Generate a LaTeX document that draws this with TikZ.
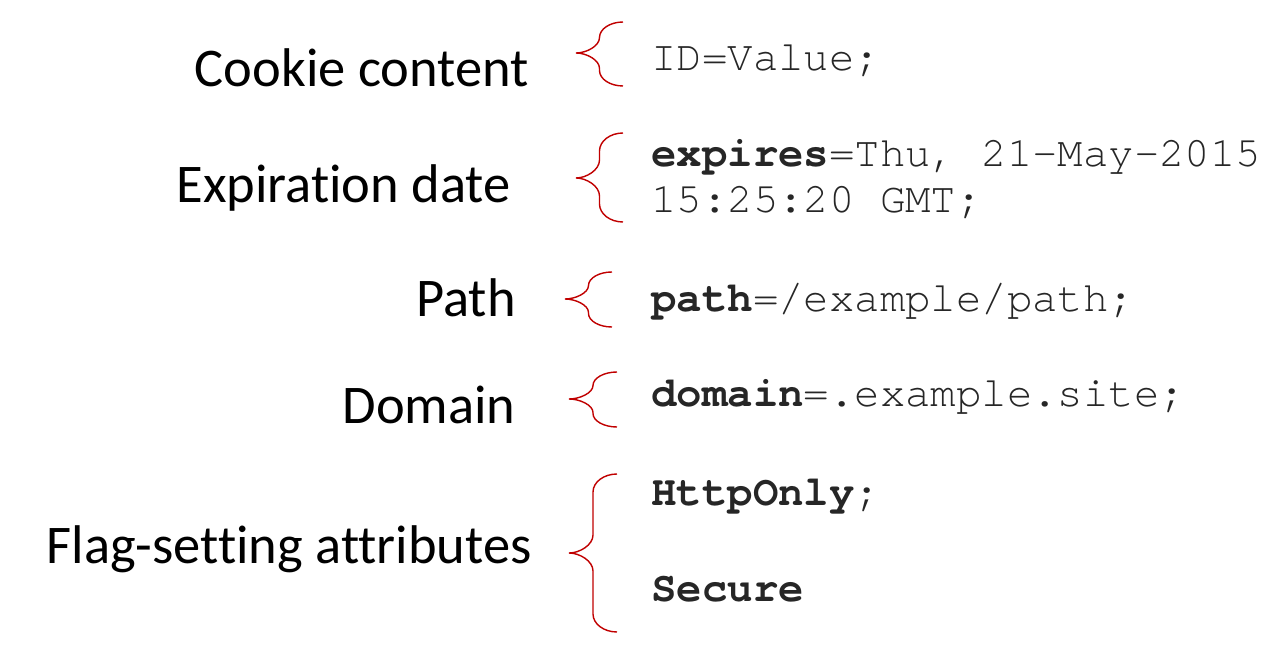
\documentclass[tikz,border=0pt]{standalone}
\usepackage{fontspec}
\setmainfont{Carlito}[Ligatures=NoCommon]
\newfontfamily\codefont{texgyrecursor}[Extension=.otf, UprightFont=*-regular, BoldFont=*-bold]
\definecolor{bracered}{HTML}{C00000}
\definecolor{codegray}{HTML}{262626}

\tikzset{
  fieldname/.style={inner sep=0pt, anchor=base east, text=black, font=\fontsize{31}{37}\selectfont},
  fieldval/.style={inner sep=0pt, anchor=base west, text=codegray, font=\codefont\fontsize{24.1}{29}\selectfont},
  bracestroke/.style={bracered, line width=0.8pt}
}

\begin{document}
\begin{tikzpicture}[x=0.2mm, y=-0.2mm]

% Canvas (1 unit = 1 px of the slide)
\useasboundingbox (0,0) rectangle (1286,655);

% Attribute names
\node[fieldname] (content) at (529,87)  {Cookie content};
\node[fieldname] (expiry)  at (511,203) {Expiration date};
\node[fieldname] (path)    at (516,317) {Path};
\node[fieldname] (domain)  at (516,424) {Domain};
\node[fieldname] (flags)   at (532,563) {Flag-setting attributes};

% Cookie string
\node[fieldval] (idval)     at (651,71)  {ID=Value;};
\node[fieldval] (expires)   at (651,167) {\textbf{expires}=Thu, 21-May-2015};
\node[fieldval] (expires2)  at (651,213) {15:25:20 GMT;};
\node[fieldval] (pathval)   at (651,312) {\textbf{path}=/example/path;};
\node[fieldval] (domainval) at (651,407) {\textbf{domain}=.example.site;};
\node[fieldval] (httponly)  at (651,505) {\textbf{HttpOnly};};
\node[fieldval] (secure)    at (651,601) {\textbf{Secure}};

% Curly braces: tip x / right x / top / tip y / bottom (four quarter arcs)
\foreach \tx/\rx/\yt/\ym/\yb in {576/623/22/53/86, 576/623/133/178/222,
    565/612/272/299/327, 569/617/372/399/427, 569/617/474/553/632} {
  \pgfmathsetmacro{\xm}{(\tx+\rx)/2}
  \pgfmathsetmacro{\br}{min(18,(\ym-\yt)/2)}
  \pgfmathsetmacro{\hw}{0.45*(\rx-\xm)}
  \pgfmathsetmacro{\hr}{0.45*\br}
  \draw[bracestroke] (\rx,\yt)
    .. controls ({\xm+\hw},\yt) and (\xm,{\yt+\hr}) .. ({\xm},{\yt+\br})
    -- ({\xm},{\ym-\br})
    .. controls (\xm,{\ym-\hr}) and ({\tx+\hw},\ym) .. (\tx,\ym)
    .. controls ({\tx+\hw},\ym) and (\xm,{\ym+\hr}) .. ({\xm},{\ym+\br})
    -- ({\xm},{\yb-\br})
    .. controls (\xm,{\yb-\hr}) and ({\xm+\hw},\yb) .. (\rx,\yb);
}

\end{tikzpicture}
\end{document}
